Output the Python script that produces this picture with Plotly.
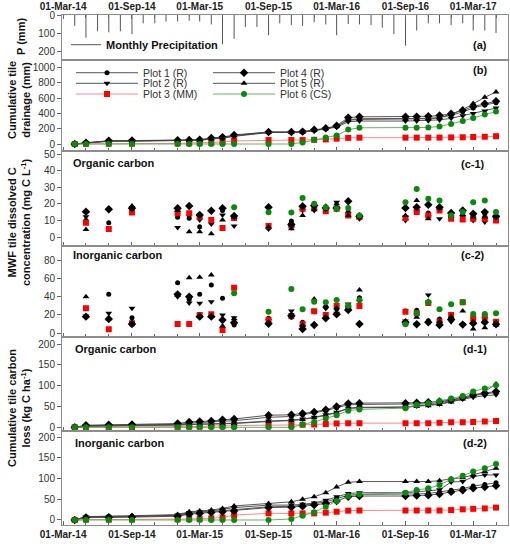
import plotly.graph_objects as go

# ---------------- data ----------------
sample_dates = ["2014-04-01", "2014-05-01", "2014-07-01", "2014-09-01", "2015-01-01", "2015-02-01",
                "2015-03-01", "2015-04-01", "2015-05-01", "2015-06-01", "2015-09-01", "2015-11-01",
                "2015-12-01", "2016-01-01", "2016-02-01", "2016-03-01", "2016-04-01", "2016-05-01",
                "2016-09-01", "2016-10-01", "2016-11-01", "2016-12-01", "2017-01-01", "2017-02-01",
                "2017-03-01", "2017-04-01", "2017-05-01"]
conc_dates = sample_dates[1:]

precip_months = ["2014-04-01", "2014-05-01", "2014-06-01", "2014-07-01", "2014-08-01", "2014-09-01",
                 "2014-10-01", "2014-11-01", "2014-12-01", "2015-01-01", "2015-02-01", "2015-03-01",
                 "2015-04-01", "2015-05-01", "2015-06-01", "2015-07-01", "2015-08-01", "2015-09-01",
                 "2015-10-01", "2015-11-01", "2015-12-01", "2016-01-01", "2016-02-01", "2016-03-01",
                 "2016-04-01", "2016-05-01", "2016-06-01", "2016-07-01", "2016-08-01", "2016-09-01",
                 "2016-10-01", "2016-11-01", "2016-12-01", "2017-01-01", "2017-02-01", "2017-03-01",
                 "2017-04-01", "2017-05-01"]
precip_mm = [60, 126, 90, 96, 90, 106, 46, 46, 36, 36, 32, 36, 52, 162, 132, 66, 66, 112,
             46, 56, 60, 40, 52, 112, 50, 52, 56, 70, 106, 170, 86, 46, 46, 56, 46, 86, 86, 100]

# cumulative tile drainage (mm)
drain_p1 = [0, 15, 40, 42, 45, 48, 52, 75, 85, 112, 155, 155, 158, 182, 200, 230, 320, 330, 330, 332, 335, 345, 375, 420, 470, 510, 540]
drain_p2 = [0, 12, 35, 38, 42, 45, 48, 65, 75, 100, 150, 150, 152, 175, 195, 220, 290, 300, 300, 302, 305, 315, 335, 370, 400, 430, 470]
drain_p3 = [0, 2, 5, 5, 8, 10, 12, 18, 25, 40, 52, 52, 52, 55, 60, 70, 80, 83, 83, 83, 83, 84, 86, 88, 92, 95, 102]
drain_p4 = [0, 18, 42, 45, 48, 52, 55, 80, 90, 118, 158, 158, 162, 185, 205, 240, 345, 355, 355, 358, 362, 372, 395, 440, 490, 525, 560]
drain_p5 = [0, 15, 38, 40, 42, 45, 50, 70, 80, 108, 152, 152, 155, 178, 198, 232, 310, 322, 322, 325, 330, 345, 390, 450, 530, 610, 680]
drain_p6 = [0, 0, 0, 0, 0, 0, 0, 0, 0, 0, 0, 0, 20, 55, 85, 112, 188, 212, 213, 214, 216, 228, 262, 300, 340, 387, 425]

# organic carbon concentration (mg C/L)
doc_p1 = [10, 8.6, 16.5, 11.9, 11.3, 6.2, 8.8, 16, 12.5, 5.5, 9.6, 17.5, 17, 16.5, 17, 15, 11.5, 12, 16, 14.5, 17, 13, 13, 13, 14, 12]
doc_p2 = [12.2, 16, 17.8, 5.8, 12.5, 10.2, 7.8, 13.3, 6.7, 4.8, 5.6, 16, 16, 17, 21, 14, 11, 10, 15, 12, 11, 12, 12, 10, 9, 11]
doc_p3 = [8.6, 4.8, 14.7, 14.3, 14.3, 12.2, 10.2, 5.4, 11.4, 6.6, 7, 17, 18, 15.5, 17, 13, 12, 11.5, 15, 13, 16, 11, 10.5, 11, 11, 10]
doc_p4 = [15.2, 16.7, 17.4, 17.3, 18.7, 13.3, 15.8, 17.3, 12.7, 17.9, 7.6, 18.5, 19, 17.5, 17.5, 21.5, 12.5, 17.5, 18, 19.5, 18, 14.5, 16, 14, 15, 12.5]
doc_p5 = [4.5, 17, 18.7, 16, 3.2, 3.2, 2.0, 10.2, 12, 6, 5, 13, 16.5, 18.5, 20, 13, 12, 13, 22, 11, 17.5, 12.5, 13.5, 12, 12, 12.5]
doc_p6 = [None, None, None, None, None, None, None, None, 18, 14.9, 14.7, 23.5, 20, 18, 17, 17.5, 13, 21, 29, 23, 22, 13, 15, 21, 22, 15]

# inorganic carbon concentration (mg C/L)
dic_p1 = [18, 42.5, 17.1, 55.3, 37, 42.5, 52.7, 38.2, 9, 16.4, 17.5, 12, 23.6, 28.4, 26.5, 27.3, 38.9, 24.4, 25.1, 13.8, 15.6, 16.4, 9.8, 12.7, 13.8, 10.9]
dic_p2 = [19, 21.8, 27.3, 40, 33, 32.7, 34.5, 20, 17, 14, 24.4, 7.3, 24, 27, 22, 32, 35, 13.5, 9.8, 41.8, 10.9, 12.7, 9, 9.8, 16, 12.7]
dic_p3 = [27.3, 4.4, 10.9, 10.2, 10.2, 20, 20.7, 3.6, 49.8, 14.5, 19, 10, 24, 20, 29.8, 28, 29.8, 23.6, 22, 33, 13, 20, 33.8, 16.4, 18.2, 12.7]
dic_p4 = [18.2, 15.6, 10.2, 42.5, 40, 18.2, 18.2, 14.5, 11.6, 10.5, 19.3, 4.7, 9.1, 16.4, 20.7, 25.5, 10.2, 12, 9.8, 12, 9, 15, 9.5, 11, 12, 9.8]
dic_p5 = [40, 16, 11, 41.5, 60.7, 61.1, 63.6, 8, 16, 12, 20, 9, 37.5, 30, 28, 30, 47.3, 11, 17.5, 35, 13, 18, 24.4, 4.7, 6.2, 9]
dic_p6 = [None, None, None, None, None, None, None, None, 43.6, 23.6, 48.4, 26.2, 34.5, 33.8, 36.4, 30.2, 36.4, 9.8, 21.8, 33.8, 26.2, 31.6, 33.8, 21.1, 21.1, 21.8]

# cumulative organic carbon loss (kg C/ha)
toc_p1 = [0, 4, 5, 6, 7, 10, 11, 12, 14, 16, 24, 26, 30, 35, 40, 47, 54, 55, 55, 56, 57, 59, 64, 70, 76, 80, 84]
toc_p2 = [0, 3, 4, 5, 5, 7, 8, 8, 9, 10, 15, 17, 20, 24, 30, 36, 46, 48, 49, 51, 53, 56, 62, 68, 72, 76, 78]
toc_p3 = [0, 1, 1, 1, 1, 2, 2, 3, 3, 4, 5, 5, 6, 7, 8, 9, 10, 10, 10, 10, 10, 11, 12, 12, 13, 14, 15]
toc_p4 = [0, 5, 6, 7, 9, 13, 14, 15, 18, 20, 29, 30, 33, 37, 42, 50, 57, 58, 58, 59, 60, 62, 66, 72, 78, 82, 86]
toc_p5 = [0, 2, 3, 4, 5, 6, 6, 7, 8, 9, 14, 16, 19, 23, 29, 35, 45, 47, 48, 50, 52, 55, 61, 68, 75, 86, 104]
toc_p6 = [0, 0, 0, 0, 0, 0, 0, 0, 0, 0, 0, 0, 7, 13, 21, 29, 40, 43, 46, 54, 58, 63, 69, 75, 86, 93, 101]

# cumulative inorganic carbon loss (kg C/ha)
tic_p1 = [0, 8, 9, 9, 11, 16, 18, 20, 22, 25, 32, 33, 36, 39, 44, 52, 60, 62, 62, 63, 64, 68, 72, 76, 82, 86, 90]
tic_p2 = [0, 7, 8, 8, 12, 18, 20, 22, 26, 30, 36, 36, 38, 41, 48, 56, 64, 66, 66, 68, 70, 73, 92, 93, 105, 109, 109]
tic_p3 = [0, 1, 1, 1, 2, 2.4, 3, 4, 6, 12, 16, 16, 16, 16, 17.7, 20, 22.6, 23, 23, 23, 23, 23, 24, 25.8, 27, 28, 30]
tic_p4 = [0, 6, 6, 7, 9, 14, 16, 18, 20, 22, 30, 31, 33, 36, 40, 46, 56, 58, 58, 59, 60, 63, 68, 72, 77, 80, 83]
tic_p5 = [0, 8, 9, 10, 13, 20, 22, 24, 28, 34, 40, 44, 50, 56, 66, 80, 91, 93, 93, 93, 93, 95, 100, 102, 109, 117, 125]
tic_p6 = [0, 0, 0, 0, 0, 0, 0, 0, 0, 0, 0, 2.4, 10.5, 19, 32, 46, 58, 62, 66, 72.6, 76.6, 84.7, 98.4, 107, 117, 125, 135.5]

series_names = ["Plot 1 (R)", "Plot 2 (R)", "Plot 3 (MM)", "Plot 4 (R)", "Plot 5 (R)", "Plot 6 (CS)"]
series_symbols = ["circle", "triangle-down", "square", "diamond", "triangle-up", "circle"]
series_msize = [5, 6, 6, 6.5, 6, 6]
series_mcolor = ["#000000", "#000000", "#ff0000", "#000000", "#000000", "#0a8a0a"]
series_lcolor = ["#444444", "#444444", "#ff7a7a", "#444444", "#444444", "#55aa55"]
series_legend = ["legend", "legend2", "legend3", "legend", "legend2", "legend3"]

drain_all = [drain_p1, drain_p2, drain_p3, drain_p4, drain_p5, drain_p6]
doc_all = [doc_p1, doc_p2, doc_p3, doc_p4, doc_p5, doc_p6]
dic_all = [dic_p1, dic_p2, dic_p3, dic_p4, dic_p5, dic_p6]
toc_all = [toc_p1, toc_p2, toc_p3, toc_p4, toc_p5, toc_p6]
tic_all = [tic_p1, tic_p2, tic_p3, tic_p4, tic_p5, tic_p6]

label_dates = ["2014-03-01", "2014-09-01", "2015-03-01", "2015-09-01", "2016-03-01", "2016-09-01", "2017-03-01"]

FONT = "Liberation Sans, Arial, sans-serif"

fig = go.Figure()

# precipitation (vertical lines hanging from 0)
px_, py_ = [], []
for d, p in zip(precip_months, precip_mm):
    px_ += [d, d, None]
    py_ += [0, p, None]
fig.add_trace(go.Scatter(x=px_, y=py_, mode="lines", line=dict(color="#555555", width=1),
                         name="Monthly Precipitation", legend="legend4",
                         xaxis="x", yaxis="y"))

for i, nm in enumerate(series_names):
    mk = dict(symbol=series_symbols[i], size=series_msize[i], color=series_mcolor[i],
              line=dict(width=0))
    ln = dict(color=series_lcolor[i], width=0.9)
    fig.add_trace(go.Scatter(x=sample_dates, y=drain_all[i], mode="lines+markers", marker=mk, line=ln,
                             name=nm, legend=series_legend[i], legendgroup=nm,
                             xaxis="x2", yaxis="y2"))
    fig.add_trace(go.Scatter(x=conc_dates, y=doc_all[i], mode="markers", marker=mk,
                             name=nm, legendgroup=nm, showlegend=False, xaxis="x3", yaxis="y3"))
    fig.add_trace(go.Scatter(x=conc_dates, y=dic_all[i], mode="markers", marker=mk,
                             name=nm, legendgroup=nm, showlegend=False, xaxis="x4", yaxis="y4"))
    fig.add_trace(go.Scatter(x=sample_dates, y=toc_all[i], mode="lines+markers", marker=mk, line=ln,
                             name=nm, legendgroup=nm, showlegend=False, xaxis="x5", yaxis="y5"))
    fig.add_trace(go.Scatter(x=sample_dates, y=tic_all[i], mode="lines+markers", marker=mk, line=ln,
                             name=nm, legendgroup=nm, showlegend=False, xaxis="x6", yaxis="y6"))

doms = [[0.9118, 1.0], [0.7333, 0.9118], [0.5476, 0.7333], [0.3680, 0.5476], [0.1843, 0.3680], [0.0, 0.1843]]
yranges = [[249, 0], [-91.5, 1098], [-5.24, 51.8], [-4.37, 95.6], [-8.9, 216.1], [-12.1, 215.2]]
ytickv = [[0, 100, 200], [0, 200, 400, 600, 800, 1000], [0, 10, 20, 30, 40, 50],
          [0, 20, 40, 60, 80], [0, 50, 100, 150, 200], [0, 50, 100, 150, 200]]

xrange_ = ["2014-02-26", "2017-06-02"]
layout = dict(
    template="none",
    width=510, height=544,
    margin=dict(l=62, r=2, t=15, b=19, autoexpand=False),
    paper_bgcolor="white", plot_bgcolor="white",
    font=dict(family=FONT, size=10, color="#333333"),
    showlegend=True,
)
for k in range(6):
    sfx = "" if k == 0 else str(k + 1)
    xa = dict(
        type="date", range=xrange_, domain=[0, 1], anchor="y" + sfx, automargin=False,
        showline=True, linecolor="#8c8c8c", linewidth=1, mirror=True,
        showgrid=False, zeroline=False,
        tickvals=label_dates, tickformat="%d-%b-%y",
        ticks="inside", ticklen=4, tickcolor="#666666",
        minor=dict(dtick="M2", tick0="2014-01-01", ticks="inside", ticklen=3, tickcolor="#666666",
                   showgrid=False),
        showticklabels=(k in (0, 5)),
        tickfont=dict(family=FONT, size=10, color="#222222", weight="bold"),
    )
    if k == 0:
        xa["side"] = "top"
    if k > 0:
        xa["matches"] = "x"
    layout["xaxis" + sfx] = xa
    layout["yaxis" + sfx] = dict(
        domain=doms[k], range=yranges[k], anchor="x" + sfx, automargin=False,
        showline=True, linecolor="#8c8c8c", linewidth=1, mirror=True,
        showgrid=False, zeroline=False,
        tickvals=ytickv[k], ticks="outside", ticklen=4, tickcolor="#666666",
        tickfont=dict(family=FONT, size=10, color="#333333"),
    )

H = 510.0
def ypap(py):
    return (525 - py) / H
def xpap(px):
    return (px - 62) / 446.0

leg_common = dict(orientation="h", xanchor="left", yanchor="middle", bgcolor="rgba(0,0,0,0)",
                  font=dict(family=FONT, size=10.5, color="#333333"),
                  itemwidth=62, entrywidth=60, entrywidthmode="pixels", tracegroupgap=0)
layout["legend"] = dict(leg_common, x=xpap(71), y=ypap(72.7))
layout["legend2"] = dict(leg_common, x=xpap(71), y=ypap(83.3))
layout["legend3"] = dict(leg_common, x=xpap(71), y=ypap(94))
layout["legend4"] = dict(orientation="h", xanchor="left", yanchor="middle", bgcolor="rgba(0,0,0,0)",
                         font=dict(family=FONT, size=11, color="#111111", weight="bold"),
                         itemwidth=30, x=xpap(66), y=ypap(44.7))

ann = []
def lab(text, px, py, anchor="left", size=11):
    ann.append(dict(text=text, x=xpap(px), y=ypap(py), xref="paper", yref="paper", showarrow=False,
                    xanchor=anchor, yanchor="middle",
                    font=dict(family=FONT, size=size, color="#111111", weight="bold")))
lab("(a)", 480, 44.5, "center")
lab("(b)", 480, 70, "center")
lab("Organic carbon", 71, 163)
lab("(c-1)", 473, 164, "center")
lab("Inorganic carbon", 71, 255)
lab("(c-2)", 473, 255, "center")
lab("Organic carbon", 73, 349)
lab("(d-1)", 475, 349, "center")
lab("Inorganic carbon", 73, 443)
lab("(d-2)", 475, 443, "center")

def ytitle(text, px, py):
    ann.append(dict(text=text, x=xpap(px), y=ypap(py), xref="paper", yref="paper", showarrow=False,
                    xanchor="center", yanchor="middle", textangle=-90,
                    font=dict(family=FONT, size=11, color="#111111", weight="bold")))
ytitle("P (mm)", 21, 37)
ytitle("Cumulative tile<br>drainage (mm)", 19, 100)
ytitle("MWF tile dissolved C<br>concentration (mg C L<sup>-1</sup>)", 19, 222)
ytitle("Cumulative tile carbon<br>loss (kg C ha<sup>-1</sup>)", 19, 408)
layout["annotations"] = ann

fig.update_layout(**layout)
fig.write_html("out.html", config={"displayModeBar": False},
               post_script="document.body.style.margin='0';")
